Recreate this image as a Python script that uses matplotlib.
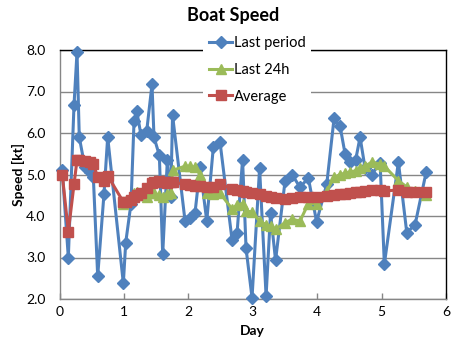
import numpy as np
import matplotlib
matplotlib.use("Agg")
import matplotlib.pyplot as plt

plt.rcParams['font.family'] = ['Lato', 'DejaVu Sans']

# ---- data ----
days = [0.043, 0.137, 0.225, 0.272, 0.307, 0.395, 0.474, 0.525, 0.593, 0.691,
        0.748, 0.991, 1.028, 1.110, 1.157, 1.199, 1.266, 1.354, 1.436, 1.467,
        1.550, 1.602, 1.674, 1.727, 1.755, 1.949, 2.027, 2.104, 2.182, 2.286,
        2.388, 2.492, 2.679, 2.756, 2.842, 2.896, 2.989, 3.106, 3.207, 3.276,
        3.354, 3.502, 3.610, 3.734, 3.863, 3.991, 4.149, 4.262, 4.356, 4.433,
        4.511, 4.596, 4.666, 4.744, 4.848, 4.977, 5.043, 5.261, 5.391, 5.520,
        5.691]

last_period = [5.10, 3.00, 6.67, 7.95, 5.90, 5.17, 5.05, 4.95, 2.55, 4.54,
               5.90, 2.38, 3.36, 4.30, 6.28, 6.53, 5.94, 6.05, 7.17, 5.90,
               5.46, 3.08, 5.34, 4.45, 6.43, 3.88, 3.96, 4.08, 5.17, 3.88,
               5.66, 5.78, 3.42, 3.58, 5.36, 3.22, 2.03, 5.15, 2.07, 4.08,
               2.93, 4.85, 5.00, 4.69, 4.92, 3.86, 4.77, 6.35, 6.16, 5.50,
               5.30, 5.34, 5.90, 5.15, 5.00, 5.28, 2.84, 5.30, 3.60, 3.79,
               5.05]

last_24h = [np.nan, np.nan, np.nan, np.nan, np.nan, np.nan, np.nan, np.nan, np.nan, np.nan,
            np.nan, 4.30, 4.35, 4.45, 4.55, 4.57, 4.50, 4.45, 4.55, 4.55,
            4.50, 4.45, 4.53, 4.55, 5.10, 5.20, 5.20, 5.17, 5.00, 4.55,
            4.53, 4.55, 4.17, 4.27, 4.30, 4.13, 4.09, 3.88, 3.79, 3.76,
            3.68, 3.84, 3.92, 3.88, 4.30, 4.30, 4.60, 4.93, 5.00, 5.03,
            5.06, 5.09, 5.15, 5.20, 5.30, 5.25, 5.20, 4.85, 4.70, 4.60,
            4.50]

average = [5.00, 3.62, 4.76, 5.35, 5.35, 5.33, 5.30, 5.26, 4.93, 4.85,
           4.97, 4.34, 4.33, 4.38, 4.45, 4.50, 4.55, 4.67, 4.80, 4.83,
           4.85, 4.82, 4.80, 4.81, 4.81, 4.77, 4.74, 4.73, 4.72, 4.70,
           4.69, 4.76, 4.66, 4.62, 4.60, 4.57, 4.55, 4.53, 4.49, 4.46,
           4.43, 4.42, 4.43, 4.45, 4.45, 4.46, 4.48, 4.51, 4.53, 4.54,
           4.55, 4.58, 4.59, 4.60, 4.62, 4.63, 4.60, 4.63, 4.59, 4.57,
           4.57]

x_ticks = [0, 1, 2, 3, 4, 5, 6]
y_ticks = [2.0, 3.0, 4.0, 5.0, 6.0, 7.0, 8.0]
y_tick_labels = ["2.0", "3.0", "4.0", "5.0", "6.0", "7.0", "8.0"]

BLUE = '#4F81BD'
GREEN = '#9BBB59'
RED = '#C0504D'
GRID = '#868686'

W, H = 469, 355
fig = plt.figure(figsize=(W / 100, H / 100), dpi=100)
left, right, top, bottom = 59.5, 446, 50, 299
ax = fig.add_axes([left / W, 1 - bottom / H, (right - left) / W, (bottom - top) / H])

ax.plot(days, last_period, color=BLUE, lw=2.2, marker='D', ms=6.0,
        mec=BLUE, mfc=BLUE, label='Last period', zorder=3, clip_on=False)
ax.plot(days, last_24h, color=GREEN, lw=2.2, marker='^', ms=7.5,
        mec=GREEN, mfc=GREEN, label='Last 24h', zorder=4, clip_on=False)
ax.plot(days, average, color=RED, lw=2.2, marker='s', ms=7.5,
        mec=RED, mfc=RED, label='Average', zorder=5, clip_on=False)

ax.set_xlim(0, 6)
ax.set_ylim(2, 8)
ax.set_xticks(x_ticks)
ax.set_xticklabels([str(t) for t in x_ticks])
ax.set_yticks(y_ticks)
ax.set_yticklabels(y_tick_labels)

ax.yaxis.grid(True, color=GRID, lw=1.0)
ax.set_axisbelow(True)
for s in ['left', 'bottom']:
    ax.spines[s].set_color(GRID)
    ax.spines[s].set_linewidth(1.0)
for s in ['top', 'right']:
    ax.spines[s].set_color('black')
    ax.spines[s].set_linewidth(1.0)

ax.tick_params(axis='x', direction='in', length=4.5, width=1.0, color=GRID,
               labelsize=10, pad=5)
ax.tick_params(axis='y', length=0, labelsize=10, pad=10)

ax.set_xlabel('Day', fontsize=10, fontweight='bold', labelpad=5)
ax.set_ylabel('Speed [kt]', fontsize=10, fontweight='bold', labelpad=1)
fig.text(0.497, 1 - 16 / H, 'Boat Speed', ha='center', va='center',
         fontsize=13, fontweight='bold')

leg = fig.legend(loc='upper left', bbox_to_anchor=(203 / W, 1 - 30 / H),
                 frameon=True, fontsize=10.5, handlelength=1.6, handletextpad=0.1,
                 labelspacing=0.88, borderpad=0.4, borderaxespad=0)
leg.get_frame().set_facecolor('white')
leg.get_frame().set_edgecolor('none')
leg.get_frame().set_alpha(1.0)
leg.get_frame().set_boxstyle('square', pad=0)
leg.set_zorder(10)

fig.savefig('out.png', dpi=100)
